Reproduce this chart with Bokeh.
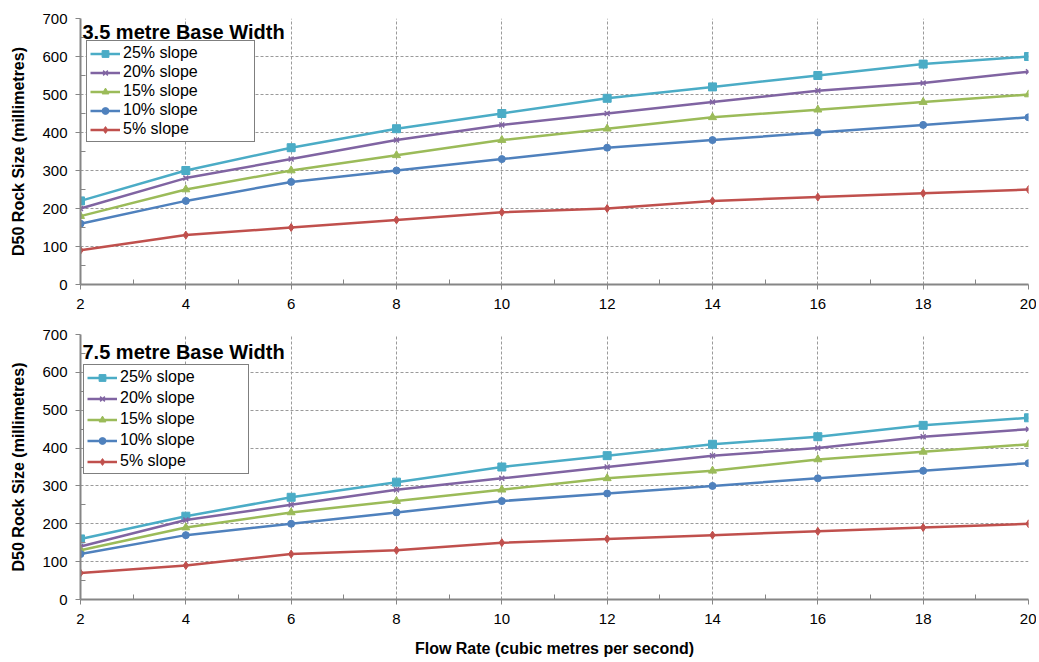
from bokeh.plotting import figure
from bokeh.layouts import column
from bokeh.models import Range1d, FixedTicker, Legend, LegendItem, Label
from bokeh.embed import file_html
from bokeh.resources import INLINE

flow = [2, 4, 6, 8, 10, 12, 14, 16, 18, 20]
series_names = ["25% slope", "20% slope", "15% slope", "10% slope", "5% slope"]
colors = ["#4BACC6", "#8064A2", "#9BBB59", "#4F81BD", "#C0504D"]
markers = ["square", "x", "triangle", "circle", "diamond"]
marker_sizes = [8, 7, 8, 7, 8]

w35_25 = [220, 300, 360, 410, 450, 490, 520, 550, 580, 600]
w35_20 = [200, 280, 330, 380, 420, 450, 480, 510, 530, 560]
w35_15 = [180, 250, 300, 340, 380, 410, 440, 460, 480, 500]
w35_10 = [160, 220, 270, 300, 330, 360, 380, 400, 420, 440]
w35_05 = [90, 130, 150, 170, 190, 200, 220, 230, 240, 250]

w75_25 = [160, 220, 270, 310, 350, 380, 410, 430, 460, 480]
w75_20 = [140, 210, 250, 290, 320, 350, 380, 400, 430, 450]
w75_15 = [130, 190, 230, 260, 290, 320, 340, 370, 390, 410]
w75_10 = [120, 170, 200, 230, 260, 280, 300, 320, 340, 360]
w75_05 = [70, 90, 120, 130, 150, 160, 170, 180, 190, 200]

y_ticks = [0, 100, 200, 300, 400, 500, 600, 700]
y_minor = [50, 150, 250, 350, 450, 550, 650]
x_ticks = [2, 4, 6, 8, 10, 12, 14, 16, 18, 20]
x_minor = [3, 5, 7, 9, 11, 13, 15, 17, 19]

FONT = "Liberation Sans"
AXIS_C = "#868686"


def make_panel(title, data, height, top, bottom, show_xlabel, leg_xy, leg_spacing, leg_label_w, title_dy):
    p = figure(width=1036, height=height, output_backend="svg", toolbar_location=None,
               x_range=Range1d(2, 20), y_range=Range1d(0, 700),
               min_border_left=80, min_border_right=8, min_border_top=top, min_border_bottom=bottom)
    p.outline_line_color = None
    p.background_fill_color = "white"
    for ax in (p.xaxis[0], p.yaxis[0]):
        ax.axis_line_color = AXIS_C
        ax.axis_line_width = 2
        ax.major_tick_line_color = AXIS_C
        ax.minor_tick_line_color = AXIS_C
        ax.major_tick_out = 5
        ax.major_tick_in = 0
        ax.minor_tick_in = 5
        ax.minor_tick_out = 0
        ax.major_label_text_font = FONT
        ax.major_label_text_font_size = "15px"
        ax.major_label_text_color = "black"
        ax.axis_label_text_font = FONT
        ax.axis_label_text_font_size = "16px"
        ax.axis_label_text_font_style = "bold"
        ax.axis_label_text_color = "black"
    p.xaxis.ticker = FixedTicker(ticks=x_ticks, minor_ticks=x_minor)
    p.yaxis.ticker = FixedTicker(ticks=y_ticks, minor_ticks=y_minor)
    p.yaxis.axis_label = "D50 Rock Size (millimetres)"
    p.yaxis.major_label_standoff = 8
    p.yaxis.axis_label_standoff = 12
    p.xaxis.major_label_standoff = 9
    if show_xlabel:
        p.xaxis.axis_label = "Flow Rate (cubic metres per second)"
        p.xaxis.axis_label_standoff = 13
    for g in (p.xgrid[0], p.ygrid[0]):
        g.grid_line_color = "#9a9a9a"
        g.grid_line_dash = "3 2"
        g.grid_line_width = 1
    p.xgrid.ticker = FixedTicker(ticks=x_ticks)
    p.ygrid.ticker = FixedTicker(ticks=y_ticks)

    items = []
    for name, ys, c, m, s in zip(series_names, data, colors, markers, marker_sizes):
        ln = p.line(flow, ys, line_color=c, line_width=2.5)
        sc = p.scatter(flow, ys, marker=m, size=s, fill_color=c, line_color=c,
                       line_width=1.5 if m == "x" else 1)
        items.append(LegendItem(label=name, renderers=[ln, sc]))

    leg = Legend(items=items, location=leg_xy)
    leg.border_line_color = "black"
    leg.border_line_width = 1
    leg.background_fill_color = "white"
    leg.background_fill_alpha = 1
    leg.label_text_font = FONT
    leg.label_text_font_size = "16px"
    leg.label_text_color = "black"
    leg.label_height = 17
    leg.glyph_height = 17
    leg.glyph_width = 30
    leg.label_standoff = 3
    leg.label_width = leg_label_w
    leg.spacing = leg_spacing
    leg.padding = 3
    leg.margin = 0
    p.add_layout(leg, "center")

    lbl = Label(x=2, y=700, text=title, x_offset=2, y_offset=title_dy,
                text_baseline="top", text_align="left",
                text_font=FONT, text_font_size="20px", text_font_style="bold",
                text_color="black")
    p.add_layout(lbl)
    return p


top_plot = make_panel("3.5 metre Base Width", [w35_25, w35_20, w35_15, w35_10, w35_05],
                      height=320, top=18, bottom=36, show_xlabel=False,
                      leg_xy=(6, 142), leg_spacing=1, leg_label_w=128, title_dy=-2)
bottom_plot = make_panel("7.5 metre Base Width", [w75_25, w75_20, w75_15, w75_10, w75_05],
                         height=342, top=14, bottom=63, show_xlabel=True,
                         leg_xy=(3, 125), leg_spacing=3, leg_label_w=125, title_dy=-6)

layout = column(top_plot, bottom_plot, spacing=0)
open("out.html", "w").write(file_html(layout, INLINE))
